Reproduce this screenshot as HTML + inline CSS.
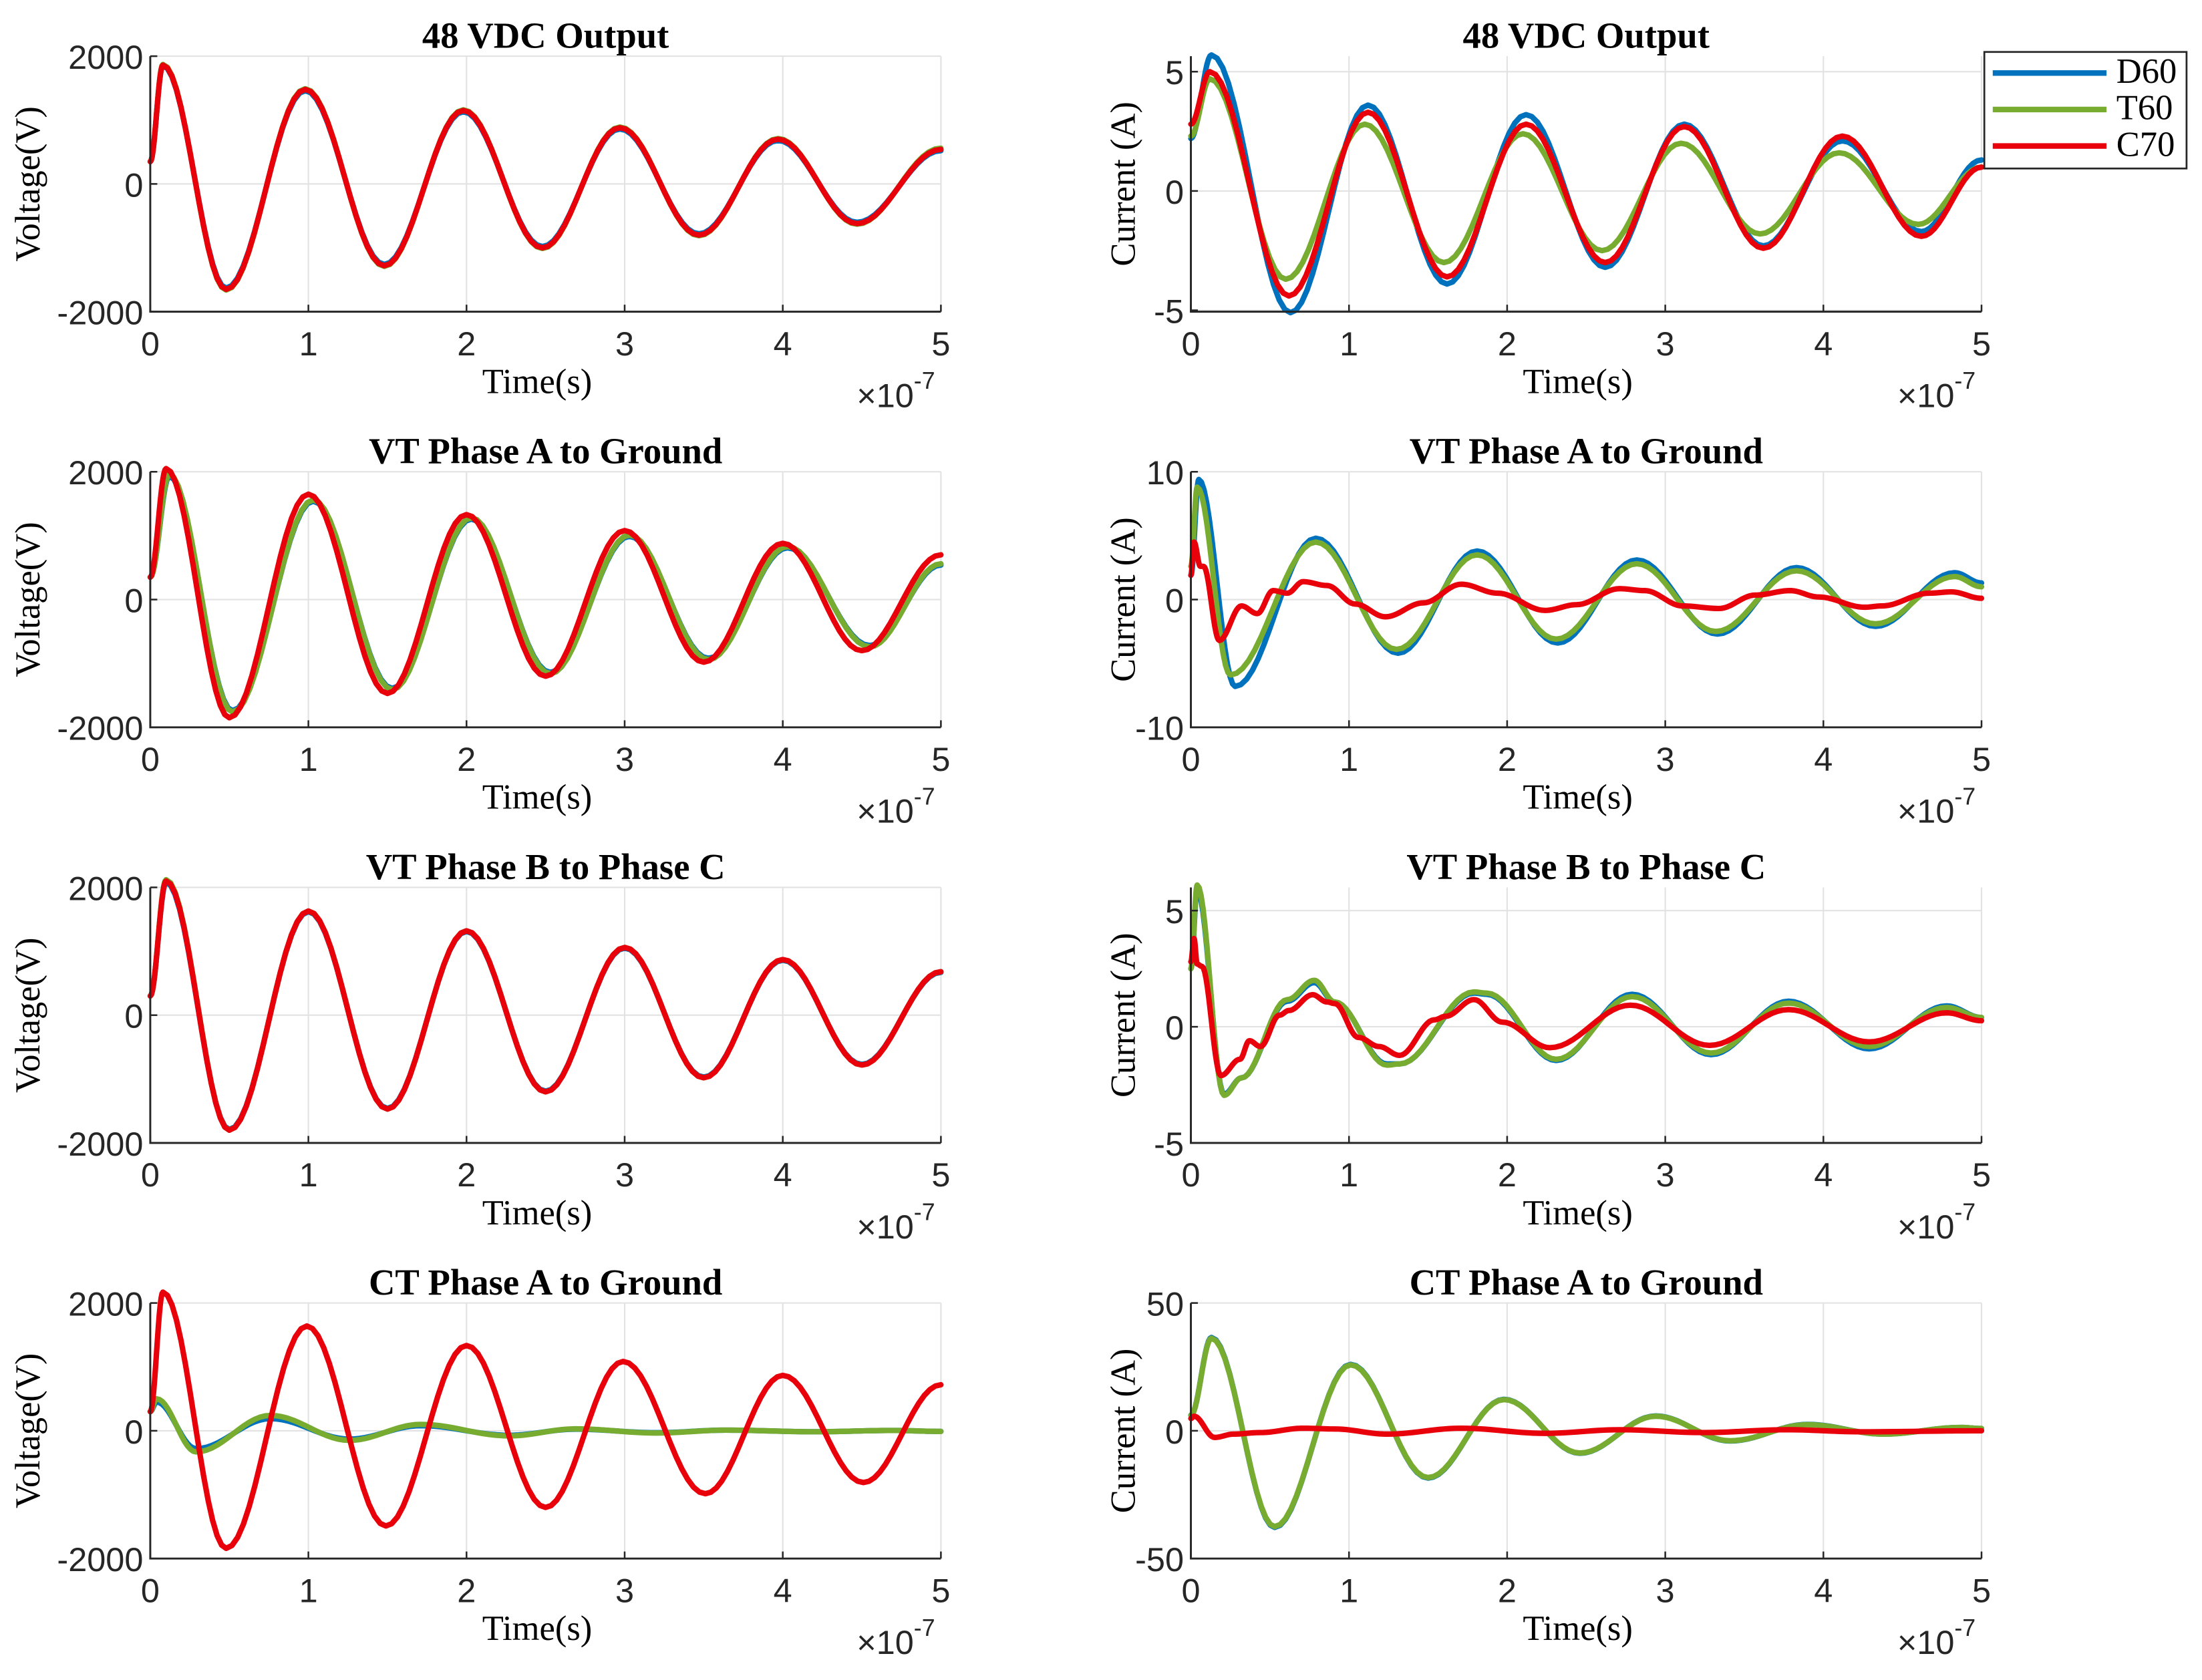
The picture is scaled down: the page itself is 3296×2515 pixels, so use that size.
<!DOCTYPE html>
<html><head><meta charset="utf-8"><style>
html,body{margin:0;padding:0;background:#fff;}
svg{display:block;}
text{font-family:"Liberation Sans",sans-serif;}
.ttl{font-family:"Liberation Serif",serif;font-weight:bold;font-size:26px;}
.lab{font-family:"Liberation Serif",serif;font-size:25px;}
.tick{font-size:24px;fill:#262626;}
</style></head><body>
<svg id="chart" width="3296" height="2515" viewBox="0 0 1568 1196.5" preserveAspectRatio="none" xmlns="http://www.w3.org/2000/svg"></svg>
<script>
// ---------- data (time in units of 1e-7 s) ----------
const xTicks = [0,1,2,3,4,5];
const seriesNames = ["D60","T60","C70"];
const seriesColors = ["#0072BD","#77AC30","#E8000B"];
const panelTitles = ["48 VDC Output","48 VDC Output","VT Phase A to Ground","VT Phase A to Ground","VT Phase B to Phase C","VT Phase B to Phase C","CT Phase A to Ground","CT Phase A to Ground"];

// Panel L1
const L1_D60_t=[0,0.08,0.48,0.98,1.48,1.98,2.48,2.97,3.47,3.97,4.47,5.0];
const L1_D60_v=[350,1850,-1630,1460,-1260,1130,-980,860,-780,680,-600,520];
const L1_T60_t=[0,0.08,0.48,0.98,1.48,1.98,2.48,2.97,3.47,3.97,4.47,5.0];
const L1_T60_v=[350,1870,-1660,1490,-1290,1160,-1010,890,-810,710,-630,560];
const L1_C70_t=[0,0.08,0.48,0.98,1.48,1.98,2.48,2.97,3.47,3.97,4.47,5.0];
const L1_C70_v=[350,1860,-1650,1480,-1280,1150,-1000,880,-800,700,-620,540];
// Panel R1
const R1_D60_t=[0,0.13,0.63,1.12,1.62,2.12,2.62,3.12,3.62,4.12,4.62,5.0];
const R1_D60_v=[2.2,5.7,-5.1,3.6,-3.9,3.2,-3.2,2.8,-2.3,2.1,-1.7,1.3];
const R1_T60_t=[0,0.12,0.60,1.10,1.60,2.10,2.60,3.10,3.60,4.10,4.60,5.0];
const R1_T60_v=[2.3,4.7,-3.7,2.8,-3.0,2.4,-2.5,2.0,-1.8,1.6,-1.4,1.0];
const R1_C70_t=[0,0.12,0.62,1.12,1.62,2.12,2.62,3.12,3.62,4.12,4.62,5.0];
const R1_C70_v=[2.8,5.0,-4.4,3.3,-3.6,2.8,-3.0,2.7,-2.4,2.3,-1.9,1.0];
// Panel L2
const L2_D60_t=[0,0.12,0.52,1.03,1.53,2.03,2.53,3.03,3.53,4.03,4.55,5.0];
const L2_D60_v=[350,1930,-1740,1540,-1390,1260,-1140,990,-920,810,-720,540];
const L2_T60_t=[0,0.12,0.52,1.03,1.53,2.03,2.53,3.03,3.53,4.03,4.55,5.0];
const L2_T60_v=[350,1960,-1760,1560,-1410,1280,-1160,1010,-940,830,-740,560];
const L2_C70_t=[0,0.10,0.50,1.00,1.50,2.00,2.50,3.00,3.50,4.00,4.50,5.0];
const L2_C70_v=[350,2050,-1850,1650,-1470,1330,-1200,1080,-980,880,-800,700];
// Panel R2
const R2_D60_t=[0,0.05,0.28,0.79,1.31,1.81,2.32,2.82,3.33,3.83,4.33,4.83,5.0];
const R2_D60_v=[1.9,9.4,-6.8,4.8,-4.2,3.8,-3.4,3.1,-2.7,2.5,-2.1,2.1,1.3];
const R2_T60_t=[0,0.04,0.25,0.79,1.30,1.81,2.31,2.82,3.32,3.83,4.33,4.83,5.0];
const R2_T60_v=[2.6,8.8,-5.9,4.5,-3.9,3.5,-3.1,2.8,-2.5,2.25,-1.9,1.8,1.0];
const R2_C70_t=[0,0.02,0.06,0.08,0.18,0.32,0.42,0.52,0.61,0.71,0.86,1.04,1.23,1.47,1.71,1.94,2.24,2.44,2.71,2.87,3.11,3.34,3.57,3.79,3.97,4.26,4.37,4.67,4.81,5.0];
const R2_C70_v=[1.9,4.5,2.6,2.6,-3.2,-0.5,-1.1,0.7,0.5,1.4,1.1,-0.35,-1.35,-0.26,1.2,0.5,-0.85,-0.4,0.85,0.7,-0.5,-0.7,0.35,0.7,0.2,-0.6,-0.5,0.5,0.6,0.1];
// Panel L3
const L3_D60_t=[0,0.10,0.50,1.00,1.50,2.00,2.50,3.00,3.50,4.00,4.50,5.0];
const L3_D60_v=[300,2080,-1790,1620,-1460,1310,-1190,1050,-970,860,-770,670];
const L3_T60_t=[0,0.10,0.50,1.00,1.50,2.00,2.50,3.00,3.50,4.00,4.50,5.0];
const L3_T60_v=[300,2120,-1800,1630,-1470,1320,-1200,1060,-980,870,-780,680];
const L3_C70_t=[0,0.10,0.50,1.00,1.50,2.00,2.50,3.00,3.50,4.00,4.50,5.0];
const L3_C70_v=[300,2100,-1800,1630,-1470,1320,-1200,1060,-980,870,-780,680];
// Panel R3
const R3_D60_t=[0,0.04,0.21,0.32,0.61,0.78,0.91,1.24,1.32,1.79,1.87,2.31,2.79,3.29,3.78,4.29,4.78,5.0];
const R3_D60_v=[2.5,5.9,-2.9,-2.2,1.1,1.9,1.05,-1.6,-1.6,1.45,1.4,-1.45,1.4,-1.2,1.1,-0.95,0.9,0.4];
const R3_T60_t=[0,0.04,0.21,0.32,0.61,0.78,0.91,1.24,1.32,1.79,1.87,2.31,2.79,3.29,3.78,4.29,4.78,5.0];
const R3_T60_v=[2.5,6.1,-2.95,-2.2,1.17,2.0,1.07,-1.65,-1.6,1.5,1.45,-1.4,1.3,-1.13,1.02,-0.85,0.83,0.4];
const R3_C70_t=[0,0.02,0.04,0.07,0.19,0.31,0.37,0.44,0.56,0.62,0.77,0.86,0.91,1.06,1.19,1.32,1.54,1.61,1.79,1.97,2.27,2.78,3.28,3.78,4.29,4.78,5.0];
const R3_C70_v=[2.8,3.8,2.7,2.6,-2.1,-1.4,-0.6,-0.85,0.5,0.7,1.38,1.07,1.0,-0.46,-0.85,-1.23,0.3,0.45,1.17,0.2,-0.9,0.93,-0.8,0.74,-0.65,0.6,0.26];
// Panel L4
const L4_D60_t=[0,0.04,0.29,0.76,1.26,1.71,2.27,2.69,3.2,3.64,4.2,4.7,5.0];
const L4_D60_v=[300,450,-280,190,-130,80,-70,25,-30,10,-15,5,-10];
const L4_T60_t=[0,0.04,0.29,0.76,1.26,1.71,2.27,2.69,3.2,3.64,4.2,4.7,5.0];
const L4_T60_v=[300,500,-330,240,-150,100,-80,30,-35,10,-15,5,-10];
const L4_C70_t=[0,0.08,0.48,0.99,1.49,2.00,2.50,2.99,3.51,4.00,4.51,5.0];
const L4_C70_v=[300,2170,-1840,1640,-1490,1335,-1200,1085,-985,867,-810,720];
// Panel R4
const R4_D60_t=[0,0.13,0.53,1.01,1.50,1.98,2.46,2.94,3.41,3.90,4.38,4.87,5.0];
const R4_D60_v=[6.1,36.5,-37.8,26.0,-18.5,12.3,-8.8,5.8,-4.0,2.5,-1.3,1.3,0.9];
const R4_T60_t=[0,0.13,0.53,1.01,1.50,1.98,2.46,2.94,3.41,3.90,4.38,4.87,5.0];
const R4_T60_v=[6.1,36.2,-37.5,25.8,-18.3,12.2,-8.7,5.7,-3.9,2.4,-1.3,1.3,0.9];
const R4_C70_t=[0,0.02,0.15,0.27,0.44,0.71,0.91,1.24,1.71,2.24,2.71,3.24,3.77,4.24,5.0];
const R4_C70_v=[4.8,5.7,-2.6,-1.3,-0.7,1.0,0.7,-1.3,1.0,-1.0,0.4,-0.7,0.4,-0.4,0];

const leftYTicks=[-2000,0,2000];
const R1YTicks=[-5,0,5], R2YTicks=[-10,0,10], R3YTicks=[-5,0,5], R4YTicks=[-50,0,50];

// ---------- layout ----------
const NS="http://www.w3.org/2000/svg";
const svg=document.getElementById('chart');
function el(tag,attrs,parent,txt){const e=document.createElementNS(NS,tag);for(const k in attrs)e.setAttribute(k,attrs[k]);if(txt!==undefined)e.textContent=txt;(parent||svg).appendChild(e);return e;}

const panels=[
 {col:0,row:0,ylim:[-2000,2000],yt:leftYTicks,yl:"Voltage(V)",d:[[L1_D60_t,L1_D60_v],[L1_T60_t,L1_T60_v],[L1_C70_t,L1_C70_v]]},
 {col:1,row:0,ylim:[-5.06,5.65],yt:R1YTicks,yl:"Current (A)",d:[[R1_D60_t,R1_D60_v],[R1_T60_t,R1_T60_v],[R1_C70_t,R1_C70_v]]},
 {col:0,row:1,ylim:[-2000,2000],yt:leftYTicks,yl:"Voltage(V)",d:[[L2_D60_t,L2_D60_v],[L2_T60_t,L2_T60_v],[L2_C70_t,L2_C70_v]]},
 {col:1,row:1,ylim:[-10,10],yt:R2YTicks,yl:"Current (A)",d:[[R2_D60_t,R2_D60_v],[R2_T60_t,R2_T60_v],[R2_C70_t,R2_C70_v]]},
 {col:0,row:2,ylim:[-2000,2000],yt:leftYTicks,yl:"Voltage(V)",d:[[L3_D60_t,L3_D60_v],[L3_T60_t,L3_T60_v],[L3_C70_t,L3_C70_v]]},
 {col:1,row:2,ylim:[-5,6],yt:R3YTicks,yl:"Current (A)",d:[[R3_D60_t,R3_D60_v],[R3_T60_t,R3_T60_v],[R3_C70_t,R3_C70_v]]},
 {col:0,row:3,ylim:[-2000,2000],yt:leftYTicks,yl:"Voltage(V)",d:[[L4_D60_t,L4_D60_v],[L4_T60_t,L4_T60_v],[L4_C70_t,L4_C70_v]]},
 {col:1,row:3,ylim:[-50,50],yt:R4YTicks,yl:"Current (A)",d:[[R4_D60_t,R4_D60_v],[R4_T60_t,R4_T60_v],[R4_C70_t,R4_C70_v]]}
];

panels.forEach((p,i)=>{
  const x0=p.col?848:107, x1=p.col?1411:670;
  const top=40+p.row*296, bot=top+182;
  const X=t=>x0+(t-0)/(5-0)*(x1-x0);
  const Y=v=>bot-(v-p.ylim[0])/(p.ylim[1]-p.ylim[0])*(bot-top);
  const g=el('g',{});
  
  
  const grid=el('g',{stroke:'#e2e2e2','stroke-width':1},g);
  
  
  xTicks.forEach(t=>el('line',{x1:X(t),x2:X(t),y1:top,y2:bot},grid));
  p.yt.forEach(v=>el('line',{x1:x0,x2:x1,y1:Y(v),y2:Y(v)},grid));
  p.d.forEach((s,k)=>{
    const ts=s[0], vs=s[1]; let pts=[];
    for(let j=0;j<ts.length-1;j++){
      const n=14;
      for(let m=0;m<(j===ts.length-2?n+1:n);m++){
        const f=m/n, e=(1-Math.cos(Math.PI*f))/2;
        const t=ts[j]+(ts[j+1]-ts[j])*f, v=vs[j]+(vs[j+1]-vs[j])*e;
        pts.push(X(t).toFixed(2)+','+Y(v).toFixed(2));
      }
    }
    const pl=el('polyline',{points:pts.join(' '),fill:'none',stroke:seriesColors[k],'stroke-width':3.9,'stroke-linejoin':'round','stroke-linecap':'round'},g);
    
    
  });
  const ax=el('path',{d:`M${x0},${top} L${x0},${bot} L${x1},${bot}`,fill:'none',stroke:'#262626','stroke-width':1.4},g);
  
  
  xTicks.forEach(t=>{
    el('line',{x1:X(t),x2:X(t),y1:bot,y2:bot-5,stroke:'#262626','stroke-width':1.2},g);
    const tx=el('text',{x:X(t),y:bot+31,'text-anchor':'middle',class:'tick'},g,String(t));
    
    
  });
  p.yt.forEach(v=>{
    el('line',{x1:x0,x2:x0+5,y1:Y(v),y2:Y(v),stroke:'#262626','stroke-width':1.2},g);
    const ty=el('text',{x:x0-5,y:Y(v)+9,'text-anchor':'end',class:'tick'},g,String(v));
    
    
  });
  const cx=(x0+x1)/2;
  const tt=el('text',{x:cx,y:top-6,'text-anchor':'middle',class:'ttl'},g,panelTitles[i]);
  
  
  const xl=el('text',{x:cx-6,y:bot+58,'text-anchor':'middle',class:'lab'},g,'Time(s)');
  
  
  const ex=el('text',{x:x1-60,y:bot+68,class:'tick'},g,'×10');
  
  
  el('tspan',{dy:-13,'font-size':'17'},ex,'-7');
  const ylx=p.col?808:28;
  const yl=el('text',{x:ylx,y:(top+bot)/2,'text-anchor':'middle',class:'lab',transform:`rotate(-90 ${ylx} ${(top+bot)/2})`},g,p.yl);
  
  
});

const lg=el('g',{});


el('rect',{x:1413,y:37,width:144,height:83,fill:'#fff',stroke:'#262626','stroke-width':1.3},lg);
seriesNames.forEach((n,k)=>{
  const y=52+k*26;
  const e=el('g',{},lg);
  
  
  el('line',{x1:1419,x2:1500,y1:y,y2:y,stroke:seriesColors[k],'stroke-width':4},e);
  el('text',{x:1507,y:y+7,class:'lab','font-size':'21'},e,n);
});
</script>
</body></html>
